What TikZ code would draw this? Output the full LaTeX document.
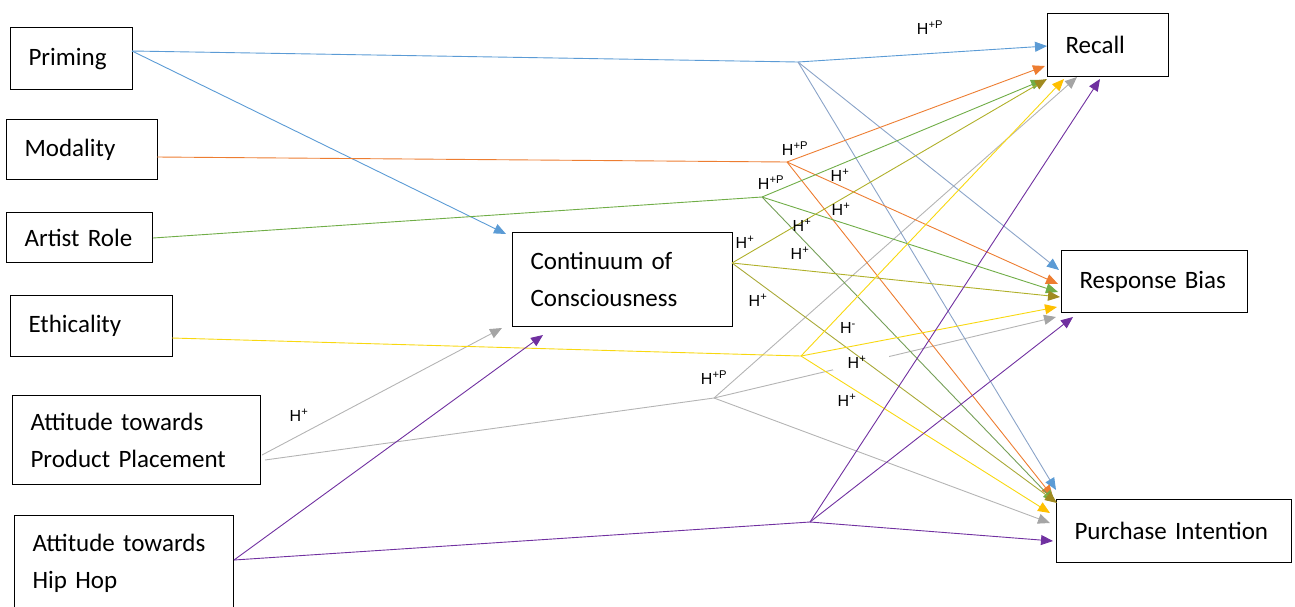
\documentclass[tikz,border=0pt]{standalone}
\usepackage{fontspec}
\setmainfont{Carlito}
\newfontfamily\labfont{Liberation Sans}
\usetikzlibrary{arrows.meta}
\definecolor{cblue}{HTML}{5B9BD5}
\definecolor{cbluegrey}{HTML}{8AA3C8}
\definecolor{corange}{HTML}{ED7D31}
\definecolor{cgreen}{HTML}{70AD47}
\definecolor{colive}{HTML}{B0B02A}
\definecolor{colivedark}{HTML}{A08A20}
\definecolor{cyellow}{HTML}{F8D810}
\definecolor{cgold}{HTML}{FFC000}
\definecolor{cgrey}{HTML}{B4B4B4}
\definecolor{cgreyarr}{HTML}{A5A5A5}
\definecolor{cpurple}{HTML}{7030A0}
\begin{document}
\begin{tikzpicture}[x=1pt,y=-1pt,
  box/.style={draw=black, line width=1.1pt, rectangle, anchor=north west,
    inner xsep=18pt, inner ysep=0pt, align=left,
    font=\fontsize{25}{37}\selectfont},
  hyp/.style={font=\labfont\fontsize{16}{18}\selectfont, inner sep=0pt},
  conn/.style={line width=0.9pt},
  tip/.style={-{Triangle[length=12pt,width=10pt]}},
]
\useasboundingbox (0,0) rectangle (1295,606);
\clip (0,0) rectangle (1295,606);

% boxes
\node[box, text width=86pt, minimum height=62pt] (priming) at (10,27) {Priming};
\node[box, text width=115pt, minimum height=60pt] (modality) at (6,119) {Modality};
\node[box, text width=110pt, minimum height=50pt] (artist) at (6,212) {Artist Role};
\node[box, text width=126pt, minimum height=61pt] (ethic) at (10,295) {Ethicality};
\node[box, text width=212pt, minimum height=89pt] (pp) at (12,395) {\mbox{Attitude towards}\\\mbox{Product Placement}};
\node[box, text width=183pt, minimum height=95pt] (hh) at (14,515) {\mbox{Attitude towards}\\\mbox{Hip Hop}};
\node[box, text width=184pt, minimum height=94pt] (cont) at (512,232) {\mbox{Continuum of}\\\mbox{Consciousness}};
\node[box, text width=85pt, minimum height=63pt] (recall) at (1047,13) {Recall};
\node[box, text width=150pt, minimum height=62pt] (rb) at (1061,250) {\mbox{Response Bias}};
\node[box, text width=199pt, minimum height=63pt] (pi) at (1056,499) {\mbox{Purchase Intention}};

% start points
\coordinate (sP) at (132,51);
\coordinate (sM) at (157,157);
\coordinate (sA) at (153,238);
\coordinate (sE) at (172,338);
\coordinate (sPP1) at (262,455);
\coordinate (sPP2) at (265,460);
\coordinate (sH) at (234,560);
\coordinate (sC) at (732,263);
% branch points
\coordinate (bP) at (798,62);
\coordinate (bM) at (787,162);
\coordinate (bA) at (762,197);
\coordinate (bE) at (801,356);
\coordinate (bPP) at (714,398);
\coordinate (bH) at (810,522);
% tips at Recall
\coordinate (rcB) at (1047,46);
\coordinate (rcO) at (1045,66);
\coordinate (rcG) at (1043,80);
\coordinate (rcC) at (1047,79);
\coordinate (rcE) at (1064,79);
\coordinate (rcPP) at (1077,77);
\coordinate (rcH) at (1100,79);
% tips at Response Bias
\coordinate (rbB) at (1059,270);
\coordinate (rbO) at (1058,284);
\coordinate (rbG) at (1058,292);
\coordinate (rbC) at (1060,297);
\coordinate (rbE) at (1057,307);
\coordinate (rbPP) at (1056,317);
\coordinate (rbH) at (1073,317);
% tips at Purchase Intention
\coordinate (piB) at (1056,490);
\coordinate (piO) at (1053,497);
\coordinate (piG) at (1055,502);
\coordinate (piC) at (1057,503);
\coordinate (piE) at (1050,513);
\coordinate (piPP) at (1050,523);
\coordinate (piH) at (1053,541);
% tips at Continuum
\coordinate (ctB) at (506,234);
\coordinate (ctPP) at (502,328);
\coordinate (ctH) at (543,335);

% grey (attitude towards product placement)
\draw[conn, cgrey, -{Triangle[length=12pt,width=10pt,fill=cgreyarr,color=cgreyarr]}] (sPP1) -- (ctPP);
\draw[conn, cgrey] (sPP2) -- (bPP);
\draw[conn, cgrey, -{Triangle[length=12pt,width=10pt,fill=cgreyarr,color=cgreyarr]}] (bPP) -- (rcPP);
\draw[conn, cgrey, -{Triangle[length=12pt,width=10pt,fill=cgreyarr,color=cgreyarr]}] (bPP) -- (rbPP);
\draw[conn, cgrey, -{Triangle[length=12pt,width=10pt,fill=cgreyarr,color=cgreyarr]}] (bPP) -- (piPP);
\node[fill=white, minimum width=56pt, minimum height=16pt, inner sep=0pt] (gap) at (861,362) {};

% priming (blue)
\draw[conn, cblue, tip] (sP) -- (ctB);
\draw[conn, cblue] (sP) -- (bP);
\draw[conn, cblue, tip] (bP) -- (rcB);
\draw[conn, cbluegrey, -{Triangle[length=12pt,width=10pt,fill=cblue,color=cblue]}] (bP) -- (rbB);
\draw[conn, cbluegrey, -{Triangle[length=12pt,width=10pt,fill=cblue,color=cblue]}] (bP) -- (piB);

% modality (orange)
\draw[conn, corange] (sM) -- (bM);
\draw[conn, corange, tip] (bM) -- (rcO);
\draw[conn, corange, tip] (bM) -- (rbO);
\draw[conn, corange, tip] (bM) -- (piO);

% artist role (green)
\draw[conn, cgreen] (sA) -- (bA);
\draw[conn, cgreen, tip] (bA) -- (rcG);
\draw[conn, cgreen, tip] (bA) -- (rbG);
\draw[conn, cgreen!70!gray, -{Triangle[length=12pt,width=10pt,fill=cgreen,color=cgreen]}] (bA) -- (piG);

% continuum (olive)
\draw[conn, colive, -{Triangle[length=12pt,width=10pt,fill=colivedark,color=colivedark]}] (sC) -- (rcC);
\draw[conn, colive, -{Triangle[length=12pt,width=10pt,fill=colivedark,color=colivedark]}] (sC) -- (rbC);
\draw[conn, colive!85!gray, -{Triangle[length=12pt,width=10pt,fill=colivedark,color=colivedark]}] (sC) -- (piC);

% ethicality (yellow)
\draw[conn, cyellow] (sE) -- (bE);
\draw[conn, cyellow, -{Triangle[length=12pt,width=10pt,fill=cgold,color=cgold]}] (bE) -- (rcE);
\draw[conn, cyellow, -{Triangle[length=12pt,width=10pt,fill=cgold,color=cgold]}] (bE) -- (rbE);
\draw[conn, cyellow, -{Triangle[length=12pt,width=10pt,fill=cgold,color=cgold]}] (bE) -- (piE);

% hip hop (purple)
\draw[conn, cpurple, tip] (sH) -- (ctH);
\draw[conn, cpurple] (sH) -- (bH);
\draw[conn, cpurple, tip] (bH) -- (rcH);
\draw[conn, cpurple, tip] (bH) -- (rbH);
\draw[conn, cpurple, tip] (bH) -- (piH);

% hypothesis labels
\node[hyp] (h1) at (930,28) {H\textsuperscript{+P}};
\node[hyp] (h2) at (795,149) {H\textsuperscript{+P}};
\node[hyp] (h3) at (771,183) {H\textsuperscript{+P}};
\node[hyp] (h4) at (840,175) {H\textsuperscript{+}};
\node[hyp] (h5) at (841,209) {H\textsuperscript{+}};
\node[hyp] (h6) at (802,225) {H\textsuperscript{+}};
\node[hyp] (h7) at (745,242) {H\textsuperscript{+}};
\node[hyp] (h8) at (800,253) {H\textsuperscript{+}};
\node[hyp] (h9) at (758,300) {H\textsuperscript{+}};
\node[hyp] (h10) at (848,328) {H\textsuperscript{-}};
\node[hyp] (h11) at (857,362) {H\textsuperscript{+}};
\node[hyp] (h12) at (714,378) {H\textsuperscript{+P}};
\node[hyp] (h13) at (847,400) {H\textsuperscript{+}};
\node[hyp] (h14) at (299,415) {H\textsuperscript{+}};
\end{tikzpicture}
\end{document}
